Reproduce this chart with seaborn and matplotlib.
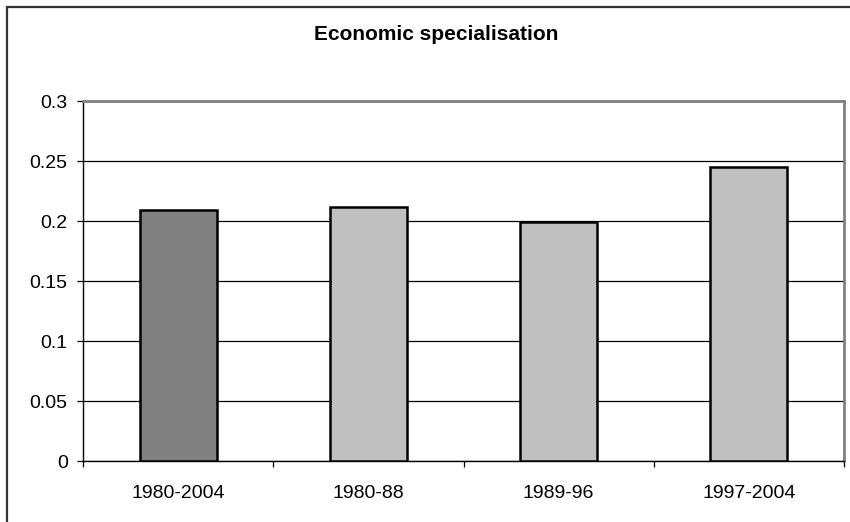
import matplotlib
matplotlib.use("Agg")
import matplotlib.pyplot as plt
import matplotlib.patches as patches
import pandas as pd
import seaborn as sns

# Data
periods = ["1980-2004", "1980-88", "1989-96", "1997-2004"]
values = [0.209, 0.2115, 0.199, 0.245]
bar_colors = ["#808080", "#C0C0C0", "#C0C0C0", "#C0C0C0"]
y_ticks = [0, 0.05, 0.1, 0.15, 0.2, 0.25, 0.3]
y_tick_labels = ["0", "0.05", "0.1", "0.15", "0.2", "0.25", "0.3"]

df = pd.DataFrame({"period": periods, "value": values})

sns.set_style("white")
plt.rcParams["font.family"] = ["Liberation Sans", "DejaVu Sans"]
plt.rcParams["text.color"] = "black"
plt.rcParams["xtick.color"] = "black"
plt.rcParams["ytick.color"] = "black"

fig = plt.figure(figsize=(8.5, 5.22), dpi=100)
ax = fig.add_axes([83 / 850, 61 / 522, (844 - 83) / 850, (461 - 101) / 522])

sns.barplot(data=df, x="period", y="value", hue="period",
            palette=dict(zip(periods, bar_colors)), legend=False,
            width=0.405, edgecolor="black", linewidth=1.8, ax=ax, zorder=3)

ax.set_xlim(-0.5, 3.5)
ax.set_ylim(0, 0.3)
ax.set_yticks(y_ticks)
ax.set_yticklabels(y_tick_labels)
ax.set_xlabel("")
ax.set_ylabel("")

# horizontal gridlines
ax.yaxis.grid(True, color="black", linewidth=0.9, zorder=0)
ax.set_axisbelow(True)

# ticks: y outward, x at category boundaries
ax.tick_params(axis="y", direction="out", length=4, width=0.9, color="black",
               labelcolor="black", labelsize=14, pad=7, left=True)
ax.set_xticks([-0.5, 0.5, 1.5, 2.5, 3.5], minor=True)
ax.tick_params(axis="x", which="major", length=0, labelsize=14, pad=17,
               labelcolor="black")
ax.tick_params(axis="x", which="minor", direction="out", length=4, width=0.9,
               color="black", bottom=True)

for side in ["left", "bottom"]:
    ax.spines[side].set_color("black")
    ax.spines[side].set_linewidth(1.0)
for side in ["top", "right"]:
    ax.spines[side].set_visible(True)
    ax.spines[side].set_color("#808080")
    ax.spines[side].set_linewidth(2.0)

fig.text(436 / 850, 1 - 35 / 522, "Economic specialisation",
         ha="center", va="center", fontsize=15, fontweight="bold", color="black")

# outer chart border
border = patches.Rectangle((7 / 850, -0.1), 1.2, 1 - 7 / 522 + 0.1,
                           transform=fig.transFigure, fill=False,
                           edgecolor="#333333", linewidth=1.6, clip_on=False)
fig.patches.append(border)

fig.savefig("out.png", dpi=100)
